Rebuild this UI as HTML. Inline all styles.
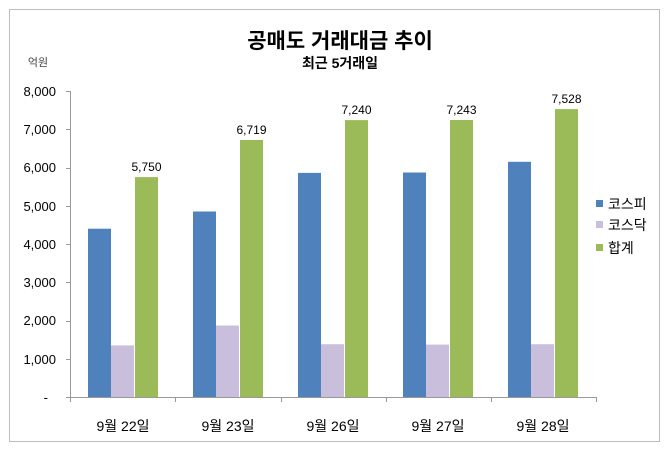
<!DOCTYPE html>
<html><head><meta charset="utf-8"><style>
body{margin:0;background:#fff;}
</style></head><body>
<svg width="670" height="452" xmlns="http://www.w3.org/2000/svg" font-family="'Liberation Sans','Noto Sans CJK KR',sans-serif">
<rect x="0" y="0" width="670" height="452" fill="#fff"/>
<rect x="9.5" y="9.5" width="650" height="432" fill="none" stroke="#bdbdbd" stroke-width="1"/>
<text x="340" y="48" text-anchor="middle" font-size="21" font-weight="bold" fill="#000">공매도 거래대금 추이</text>
<text x="340" y="68" text-anchor="middle" font-size="14" font-weight="bold" fill="#000">최근 5거래일</text>
<text x="38" y="66" text-anchor="middle" font-size="11" fill="#444">억원</text>
<g font-size="13" fill="#000" text-anchor="end">
<text x="56" y="96">8,000</text>
<text x="56" y="134">7,000</text>
<text x="56" y="172">6,000</text>
<text x="56" y="211">5,000</text>
<text x="56" y="249">4,000</text>
<text x="56" y="287">3,000</text>
<text x="56" y="325">2,000</text>
<text x="56" y="364">1,000</text>
<text x="48" y="402">-</text>
</g>
<g stroke="#999" stroke-width="1">
<line x1="70.5" y1="91" x2="70.5" y2="397"/>
<line x1="66" y1="91.5" x2="70" y2="91.5"/><line x1="66" y1="129.5" x2="70" y2="129.5"/>
<line x1="66" y1="168.5" x2="70" y2="168.5"/><line x1="66" y1="206.5" x2="70" y2="206.5"/>
<line x1="66" y1="244.5" x2="70" y2="244.5"/><line x1="66" y1="282.5" x2="70" y2="282.5"/>
<line x1="66" y1="321.5" x2="70" y2="321.5"/><line x1="66" y1="359.5" x2="70" y2="359.5"/>
<line x1="66" y1="397.5" x2="596" y2="397.5"/>
<line x1="70.5" y1="397" x2="70.5" y2="402"/><line x1="175.5" y1="397" x2="175.5" y2="402"/>
<line x1="281.5" y1="397" x2="281.5" y2="402"/><line x1="386.5" y1="397" x2="386.5" y2="402"/>
<line x1="491.5" y1="397" x2="491.5" y2="402"/><line x1="596.5" y1="397" x2="596.5" y2="402"/>
</g>
<g>
<!-- g1 -->
<rect x="88" y="228.7" width="23" height="168.3" fill="#4f81bd"/>
<rect x="111" y="345.4" width="23" height="51.6" fill="#c9bfdd"/>
<rect x="135" y="177.1" width="23" height="219.9" fill="#9bbb59"/>
<!-- g2 -->
<rect x="193" y="211.5" width="23" height="185.5" fill="#4f81bd"/>
<rect x="216" y="325.5" width="23" height="71.5" fill="#c9bfdd"/>
<rect x="240" y="140" width="23" height="257" fill="#9bbb59"/>
<!-- g3 -->
<rect x="298" y="172.9" width="23" height="224.1" fill="#4f81bd"/>
<rect x="321" y="344.2" width="23" height="52.8" fill="#c9bfdd"/>
<rect x="345" y="120.1" width="23" height="276.9" fill="#9bbb59"/>
<!-- g4 -->
<rect x="403" y="172.5" width="23" height="224.5" fill="#4f81bd"/>
<rect x="426" y="344.6" width="23" height="52.4" fill="#c9bfdd"/>
<rect x="450" y="120" width="23" height="277" fill="#9bbb59"/>
<!-- g5 -->
<rect x="508" y="161.8" width="23" height="235.2" fill="#4f81bd"/>
<rect x="531" y="344.2" width="23" height="52.8" fill="#c9bfdd"/>
<rect x="555" y="109.1" width="23" height="287.9" fill="#9bbb59"/>
</g>
<g font-size="12" fill="#000" text-anchor="middle">
<text x="146.5" y="171">5,750</text>
<text x="251.5" y="134">6,719</text>
<text x="356.5" y="114">7,240</text>
<text x="461.5" y="114">7,243</text>
<text x="566.5" y="103">7,528</text>
</g>
<g font-size="14" fill="#000" text-anchor="middle">
<text x="123" y="431">9월 22일</text>
<text x="228" y="431">9월 23일</text>
<text x="333" y="431">9월 26일</text>
<text x="438" y="431">9월 27일</text>
<text x="543" y="431">9월 28일</text>
</g>
<rect x="596" y="200" width="7" height="7" fill="#4f81bd"/>
<rect x="596" y="221" width="7" height="7" fill="#c9bfdd"/>
<rect x="596" y="244" width="7" height="7" fill="#9bbb59"/>
<g font-size="14" fill="#000">
<text x="608" y="209">코스피</text>
<text x="608" y="230">코스닥</text>
<text x="608" y="253">합계</text>
</g>
</svg>
</body></html>
